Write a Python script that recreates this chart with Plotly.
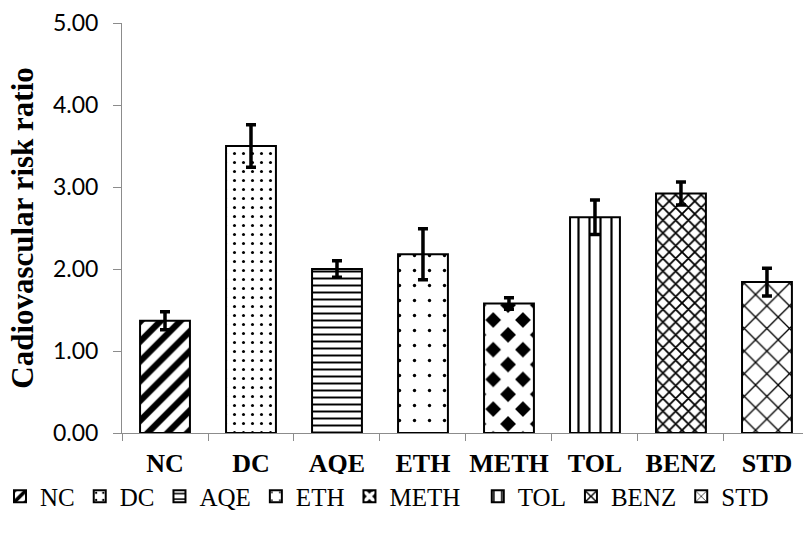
import plotly.graph_objects as go

# Group labels, mean ratios and error half-widths
groups = ["NC", "DC", "AQE", "ETH", "METH", "TOL", "BENZ", "STD"]
ratio = [1.37, 3.50, 2.00, 2.18, 1.58, 2.63, 2.92, 1.84]
err = [0.11, 0.26, 0.10, 0.31, 0.07, 0.21, 0.14, 0.17]
y_ticks = [0, 1, 2, 3, 4, 5]

# Fill pattern per group (shape, size, solidity, fg, bg)
patterns = {
    "NC": dict(shape="/", size=14, solidity=0.45, fgcolor="black", bgcolor="white"),
    "DC": dict(shape=".", size=9, solidity=0.09, fgcolor="black", bgcolor="white"),
    "AQE": dict(shape="-", size=7, solidity=0.28, fgcolor="black", bgcolor="white"),
    "ETH": dict(shape=".", size=15, solidity=0.04, fgcolor="black", bgcolor="white"),
    "METH": dict(shape="x", size=21, solidity=0.72, fgcolor="white", bgcolor="black"),
    "TOL": dict(shape="|", size=11, solidity=0.2, fgcolor="black", bgcolor="white"),
    "BENZ": dict(shape="x", size=9, solidity=0.36, fgcolor="black", bgcolor="white"),
    "STD": dict(shape="x", size=16, solidity=0.16, fgcolor="black", bgcolor="white"),
}

# The legend is split in two so each half stays on one row
first_half = groups[:5]

fig = go.Figure()
for g, v, e in zip(groups, ratio, err):
    fig.add_trace(go.Bar(
        x=[g], y=[v], name=g, width=0.58,
        legend="legend" if g in first_half else "legend2",
        marker=dict(color="white", line=dict(color="black", width=2),
                    pattern=dict(fgopacity=1, **patterns[g])),
        error_y=dict(type="data", array=[e], visible=True,
                     color="black", thickness=3.5, width=5),
    ))

legend_font = dict(family="Liberation Serif", size=25, color="black")
axis_grey = "#8c8c8c"
fig.update_layout(
    width=803, height=534,
    margin=dict(l=122, r=0, t=23, b=101, autoexpand=False),
    paper_bgcolor="white", plot_bgcolor="white",
    barmode="overlay",
    showlegend=True,
    legend=dict(
        orientation="h", xref="container", yref="container",
        x=0.0, xanchor="left", y=0.07, yanchor="middle",
        font=legend_font, itemwidth=30,
    ),
    legend2=dict(
        orientation="h", xref="container", yref="container",
        x=0.595, xanchor="left", y=0.07, yanchor="middle",
        font=legend_font, itemwidth=30,
    ),
    xaxis=dict(
        type="category", categoryorder="array", categoryarray=groups,
        range=[-0.5, 7.419], automargin=False, tickangle=0,
        showline=True, linecolor=axis_grey, linewidth=1,
        ticks="outside", tickson="boundaries", ticklen=7, tickcolor=axis_grey,
        tickfont=dict(family="Liberation Serif", size=26, color="black"),
        ticklabelstandoff=7,
        showgrid=False,
    ),
    yaxis=dict(
        range=[0, 5], tickvals=y_ticks, tickformat=".2f", automargin=False,
        showline=True, linecolor=axis_grey, linewidth=1,
        ticks="outside", ticklen=8, tickcolor=axis_grey,
        tickfont=dict(family="Lato", size=23, color="black"),
        ticklabelstandoff=10,
        showgrid=False, zeroline=False,
        title=dict(text="<b>Cadiovascular risk ratio</b>", standoff=10,
                   font=dict(family="Liberation Serif", size=31, color="black")),
    ),
)
fig.update_xaxes(tickprefix="<b>", ticksuffix="</b>")

fig.write_html("out.html")
